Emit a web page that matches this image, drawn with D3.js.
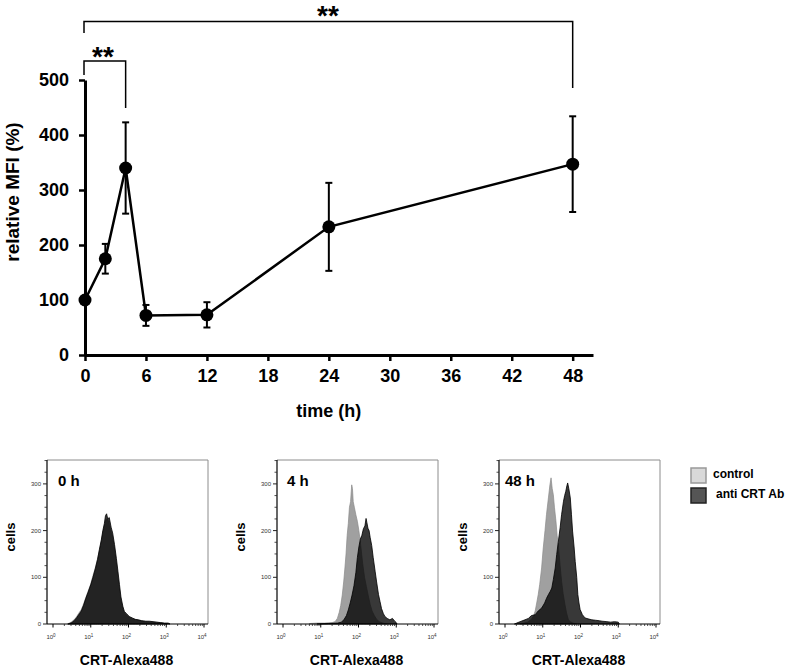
<!DOCTYPE html>
<html>
<head>
<meta charset="utf-8">
<script src="https://cdn.jsdelivr.net/npm/d3@7"></script>
<style>
  html, body { margin: 0; padding: 0; background: #fff; }
  svg { display: block; font-family: "Liberation Sans", Arial, sans-serif; }
</style>
</head>
<body>
<svg id="chart" width="790" height="670"></svg>
<script>
// ---------- Top chart data ----------
const timeH = [0, 2, 4, 6, 12, 24, 48];
const relMFI = [100, 175, 340, 72, 73, 233, 347];
const errMFI = [0, 27, 83, 19, 23, 80, 87];
const xTickValues = [0, 6, 12, 18, 24, 30, 36, 42, 48];
const yTickValues = [0, 100, 200, 300, 400, 500];
const sigPairs = [[0, 4], [0, 48]];
const sigLabel = "**";

// ---------- Histogram data (log10 fluorescence, cell counts) ----------
const panelLabels = ["0 h", "4 h", "48 h"];
const h0CtrlLog = [0.38,0.48,0.56,0.62,0.69,0.75,0.81,0.87,0.93,1.00,1.06,1.12,1.18,1.23,1.28,1.32,1.36,1.40,1.44,1.48,1.53,1.58,1.63,1.68,1.72,1.76,1.80,1.85,1.90,1.98,2.08,2.20,2.35,2.50,2.70,2.90,3.00];
const h0CtrlCount = [0,4,9,15,24,31,43,57,70,86,104,120,140,158,178,196,210,222,226,218,200,185,160,128,100,75,50,33,23,16,12,9,7,5,4,2,0];
const h0AntiLog = [0.40,0.50,0.57,0.63,0.70,0.75,0.81,0.87,0.93,1.00,1.06,1.12,1.18,1.23,1.28,1.32,1.36,1.39,1.42,1.45,1.49,1.54,1.58,1.63,1.68,1.72,1.76,1.80,1.85,1.89,1.95,2.02,2.10,2.18,2.26,2.35,2.45,2.55,2.65,2.75,2.85,2.95,3.05,3.10];
const h0AntiCount = [0,3,8,14,22,28,40,55,68,84,100,118,138,160,180,200,215,232,236,225,228,207,195,170,140,113,85,58,38,27,22,16,13,10,9,7,6,6,5,4,3,2,2,0];
const h4CtrlLog = [0.70,0.90,1.10,1.30,1.38,1.44,1.49,1.53,1.57,1.61,1.64,1.67,1.70,1.73,1.76,1.79,1.82,1.84,1.86,1.89,1.93,1.97,2.01,2.06,2.11,2.16,2.21,2.26,2.31,2.36,2.42,2.48,2.55,2.65,2.75];
const h4CtrlCount = [1,2,2,3,5,12,25,40,62,92,120,150,190,215,250,262,298,290,262,250,234,220,200,168,130,100,80,60,42,28,18,10,5,2,0];
const h4AntiLog = [0.90,1.20,1.45,1.55,1.62,1.68,1.73,1.78,1.83,1.88,1.93,1.97,2.01,2.05,2.09,2.13,2.17,2.20,2.22,2.25,2.28,2.31,2.35,2.39,2.44,2.48,2.53,2.57,2.61,2.66,2.70,2.76,2.83,2.90,2.96,3.00,3.02];
const h4AntiCount = [0,1,2,4,10,18,30,45,62,82,110,142,165,182,190,204,210,226,218,205,200,185,168,142,113,90,63,48,33,22,16,12,9,12,6,3,0];
const h48CtrlLog = [0.40,0.60,0.70,0.76,0.80,0.84,0.88,0.92,0.97,1.01,1.06,1.10,1.15,1.19,1.22,1.25,1.28,1.31,1.35,1.38,1.42,1.46,1.50,1.54,1.59,1.63,1.68,1.73,1.80,1.90];
const h48CtrlCount = [0,4,10,18,28,45,63,85,120,160,200,235,270,298,313,290,277,250,220,190,163,125,91,65,41,24,9,5,2,0];
const h48AntiLog = [0.25,0.31,0.40,0.53,0.62,0.70,0.80,0.88,0.97,1.05,1.10,1.15,1.20,1.24,1.28,1.33,1.37,1.41,1.46,1.50,1.55,1.58,1.61,1.64,1.66,1.69,1.73,1.76,1.79,1.83,1.86,1.90,1.93,1.96,1.99,2.05,2.12,2.20,2.30,2.40,2.50,2.57,2.70,2.80,2.90,3.00,3.03];
const h48AntiCount = [0,2,5,9,12,18,20,28,34,45,55,63,70,77,95,120,149,175,206,235,263,275,284,296,302,290,270,235,199,165,134,100,63,45,31,20,13,11,9,8,7,6,5,4,5,4,0];
const histXTicks = [1, 10, 100, 1000, 10000];
const histYTicks = [0, 100, 200, 300];
const legendLabels = ["control", "anti CRT Ab"];
const axisLabels = { y: "relative MFI (%)", x: "time (h)", histY: "cells", histX: "CRT-Alexa488" };

// ---------- Drawing ----------
const svg = d3.select("#chart");
const FONT = "'Liberation Sans', Arial, sans-serif";

// Top chart scales
const x = d3.scaleLinear().domain([0, 50]).range([85, 593]);
const y = d3.scaleLinear().domain([0, 500]).range([355, 80]);

const gx = svg.append("g").attr("transform", `translate(0,${y(0)})`)
  .call(d3.axisBottom(x).tickValues(xTickValues).tickSize(6).tickSizeOuter(0).tickPadding(8));
const gy = svg.append("g").attr("transform", `translate(${x(0)},0)`)
  .call(d3.axisLeft(y).tickValues(yTickValues).tickSize(6).tickSizeOuter(0).tickPadding(10));
[gx, gy].forEach(g => {
  g.select(".domain").attr("stroke", "#000").attr("stroke-width", 3);
  g.selectAll(".tick line").attr("stroke", "#000").attr("stroke-width", 2.5);
  g.selectAll(".tick text").attr("fill", "#000").style("font-family", FONT)
    .style("font-size", "18px").style("font-weight", "bold");
});

svg.append("text").attr("x", x(24)).attr("y", 417).attr("text-anchor", "middle")
  .style("font-size", "18px").style("font-weight", "bold").text(axisLabels.x);
svg.append("text").attr("transform", "translate(19,192) rotate(-90)").attr("text-anchor", "middle")
  .style("font-size", "19px").style("font-weight", "bold").text(axisLabels.y);

const pts = timeH.map((t, i) => ({ t, v: relMFI[i], e: errMFI[i] }));

// error bars
const eb = svg.append("g").attr("stroke", "#000").attr("stroke-width", 2);
pts.filter(d => d.e > 0).forEach(d => {
  eb.append("line").attr("x1", x(d.t)).attr("x2", x(d.t)).attr("y1", y(d.v - d.e)).attr("y2", y(d.v + d.e));
  eb.append("line").attr("x1", x(d.t) - 3.5).attr("x2", x(d.t) + 3.5).attr("y1", y(d.v + d.e)).attr("y2", y(d.v + d.e));
  eb.append("line").attr("x1", x(d.t) - 3.5).attr("x2", x(d.t) + 3.5).attr("y1", y(d.v - d.e)).attr("y2", y(d.v - d.e));
});

svg.append("path").datum(pts)
  .attr("d", d3.line().x(d => x(d.t)).y(d => y(d.v)))
  .attr("fill", "none").attr("stroke", "#000").attr("stroke-width", 2.5);

svg.append("g").selectAll("circle").data(pts).join("circle")
  .attr("cx", d => x(d.t)).attr("cy", d => y(d.v)).attr("r", 6.5).attr("fill", "#000");

// significance brackets
const bracketSpecs = [
  { pair: sigPairs[0], top: 61, leftEnd: 75, rightEnd: 108, textY: 66, cx: 103 },
  { pair: sigPairs[1], top: 21.5, leftEnd: 33, rightEnd: 88, textY: 25, cx: 328 }
];
bracketSpecs.forEach(b => {
  const x1 = x(b.pair[0]) - 1, x2 = x(b.pair[1]);
  svg.append("path")
    .attr("d", `M${x1},${b.leftEnd}V${b.top}H${x2}V${b.rightEnd}`)
    .attr("fill", "none").attr("stroke", "#000").attr("stroke-width", 1.5);
  svg.append("text").attr("x", b.cx).attr("y", b.textY).attr("text-anchor", "middle")
    .style("font-size", "28px").style("font-weight", "bold").text(sigLabel);
});

// ---------- Histograms ----------
const histData = [
  { ctrl: [h0CtrlLog, h0CtrlCount], anti: [h0AntiLog, h0AntiCount] },
  { ctrl: [h4CtrlLog, h4CtrlCount], anti: [h4AntiLog, h4AntiCount] },
  { ctrl: [h48CtrlLog, h48CtrlCount], anti: [h48AntiLog, h48AntiCount] }
];
const panelLefts = [47, 277, 499];
const pW = 161, pTop = 460, pBottom = 624;
const decadePx = 37.75, firstDecadeOffset = 6;

histData.forEach((hd, i) => {
  const left = panelLefts[i];
  const hx = d3.scaleLog()
    .domain([Math.pow(10, -firstDecadeOffset / decadePx), Math.pow(10, (pW - firstDecadeOffset) / decadePx)])
    .range([left, left + pW]);
  const hy = d3.scaleLinear().domain([0, 350]).range([pBottom, pBottom - 350 * 0.467]);
  const g = svg.append("g");

  // frame top/right
  g.append("path").attr("d", `M${left},${pTop}H${left + pW}V${pBottom}`)
    .attr("fill", "none").attr("stroke", "#8c8c8c").attr("stroke-width", 1);

  const area = d3.area().x(d => hx(Math.pow(10, d[0]))).y0(hy(0)).y1(d => hy(d[1]));
  const ctrlPts = hd.ctrl[0].map((v, k) => [v, hd.ctrl[1][k]]);
  const antiPts = hd.anti[0].map((v, k) => [v, hd.anti[1][k]]);
  g.append("path").datum(ctrlPts).attr("d", area)
    .attr("fill", "#a0a0a0").attr("stroke", "#8a8a8a").attr("stroke-width", 0.7);
  g.append("path").datum(antiPts).attr("d", area)
    .attr("fill", "#000").attr("fill-opacity", 0.78).attr("stroke", "#000").attr("stroke-width", 0.8);

  // x axis
  const ax = g.append("g");
  ax.append("line").attr("x1", left).attr("x2", left + pW).attr("y1", pBottom).attr("y2", pBottom)
    .attr("stroke", "#000").attr("stroke-width", 1.2);
  for (let dec = 0; dec < 4; dec++) {
    for (let m = 2; m <= 9; m++) {
      const xv = hx(m * Math.pow(10, dec));
      ax.append("line").attr("x1", xv).attr("x2", xv).attr("y1", pBottom).attr("y2", pBottom + 2)
        .attr("stroke", "#222").attr("stroke-width", 0.8);
    }
  }
  histXTicks.forEach((tv, k) => {
    const xv = hx(tv);
    ax.append("line").attr("x1", xv).attr("x2", xv).attr("y1", pBottom).attr("y2", pBottom + 3.5)
      .attr("stroke", "#000").attr("stroke-width", 1);
    const t = ax.append("text").attr("x", xv - 2).attr("y", pBottom + 15).attr("text-anchor", "middle")
      .style("font-size", "6px").attr("fill", "#333");
    t.append("tspan").text("10");
    t.append("tspan").attr("dy", -2.5).style("font-size", "4.5px").text(String(k));
  });

  // y axis
  const ay = g.append("g");
  ay.append("line").attr("x1", left).attr("x2", left).attr("y1", pTop).attr("y2", pBottom)
    .attr("stroke", "#000").attr("stroke-width", 1.2);
  for (let v = 0; v <= 350; v += 25) {
    const major = v % 100 === 0;
    ay.append("line").attr("x1", left - (major ? 4 : 2.5)).attr("x2", left).attr("y1", hy(v)).attr("y2", hy(v))
      .attr("stroke", "#222").attr("stroke-width", major ? 1 : 0.8);
  }
  histYTicks.forEach(v => {
    ay.append("text").attr("x", left - 6).attr("y", hy(v) + 2).attr("text-anchor", "end")
      .style("font-size", "6px").attr("fill", "#333").text(v);
  });

  // labels
  g.append("text").attr("x", left + [11, 10, 6][i]).attr("y", 486)
    .style("font-size", "15px").style("font-weight", "bold").text(panelLabels[i]);
  g.append("text").attr("transform", `translate(${left - 32},537) rotate(-90)`).attr("text-anchor", "middle")
    .style("font-size", "13px").style("font-weight", "bold").text(axisLabels.histY);
  g.append("text").attr("x", left + pW / 2 - 1).attr("y", 665).attr("text-anchor", "middle")
    .style("font-size", "14px").style("font-weight", "bold").text(axisLabels.histX);
});

// legend
const legendStyles = [
  { fill: "#d9d9d9", stroke: "#999999", y: 468, tx: 713 },
  { fill: "#555555", stroke: "#222222", y: 488, tx: 716 }
];
legendLabels.forEach((lab, i) => {
  const s = legendStyles[i];
  svg.append("rect").attr("x", 691).attr("y", s.y).attr("width", 15).attr("height", 15)
    .attr("fill", s.fill).attr("stroke", s.stroke).attr("stroke-width", 1.5);
  svg.append("text").attr("x", s.tx).attr("y", s.y + 10).style("font-size", "12px")
    .style("font-weight", "bold").text(lab);
});
</script>
</body>
</html>
